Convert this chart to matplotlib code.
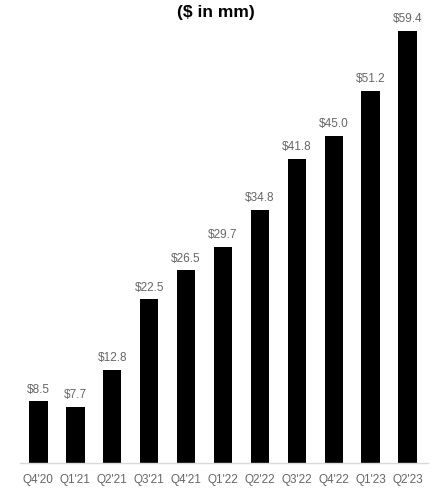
import matplotlib
matplotlib.use("Agg")
import matplotlib.pyplot as plt

quarters = ["Q4'20", "Q1'21", "Q2'21", "Q3'21", "Q4'21", "Q1'22",
            "Q2'22", "Q3'22", "Q4'22", "Q1'23", "Q2'23"]
values = [8.5, 7.7, 12.8, 22.5, 26.5, 29.7, 34.8, 41.8, 45.0, 51.2, 59.4]

plt.rcParams['font.family'] = ['Liberation Sans', 'DejaVu Sans']

fig = plt.figure(figsize=(4.43, 5.04), dpi=100)
ax = fig.add_axes([0.045, 0.0813, 0.921, 0.8572])

x = range(len(quarters))
bars = ax.bar(x, values, width=0.5, color='black')

# value labels above each bar
for b, v in zip(bars, values):
    ax.annotate('$%.1f' % v, (b.get_x() + b.get_width() / 2, v),
                xytext=(0, 4), textcoords='offset points',
                ha='center', va='bottom', fontsize=8.5, color='#666666')

ax.set_xlim(-0.5, 10.55)
ax.set_ylim(0, 59.4)
ax.set_xticks(list(x))
ax.set_xticklabels(quarters, fontsize=8.5, color='#666666')
ax.tick_params(axis='x', length=0, pad=8)
ax.set_yticks([])
for s in ['top', 'right', 'left']:
    ax.spines[s].set_visible(False)
ax.spines['bottom'].set_color('#d9d9d9')
ax.spines['bottom'].set_linewidth(1)

fig.text(0.488, 0.976, '($ in mm)', ha='center', va='center',
         fontsize=12.5, fontweight='bold', color='black')

plt.savefig('out.png', dpi=100)
